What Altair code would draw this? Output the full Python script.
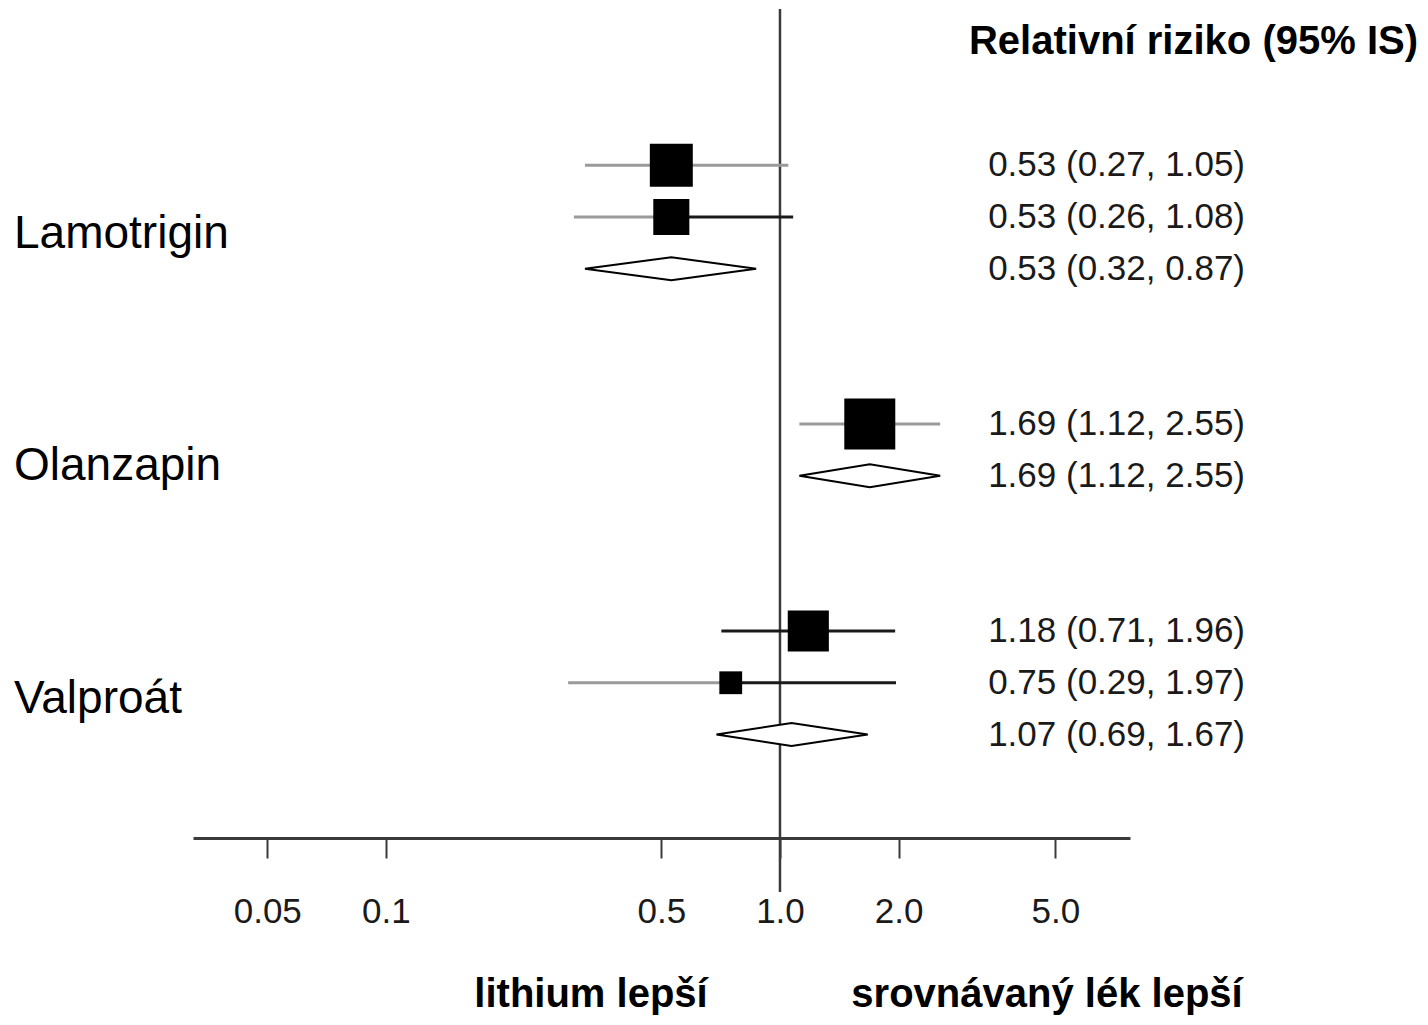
import altair as alt
import pandas as pd

# ---- data ----
groups = ["Lamotrigin", "Olanzapin", "Valproát"]
group_sizes = [3, 2, 3]
kinds = ["study", "study", "summary", "study", "summary", "study", "study", "summary"]
rr = [0.53, 0.53, 0.53, 1.69, 1.69, 1.18, 0.75, 1.07]
ci_low_label = [0.27, 0.26, 0.32, 1.12, 1.12, 0.71, 0.29, 0.69]
ci_low_drawn = [0.32, 0.30, 0.32, 1.12, 1.12, 0.71, 0.29, 0.69]
ci_high = [1.05, 1.08, 0.87, 2.55, 2.55, 1.96, 1.97, 1.67]
weights = [71, 50, None, 100, None, 65, 20, None]
tick_values = [0.05, 0.1, 0.5, 1.0, 2.0, 5.0]
header = "Relativní riziko (95% IS)"
left_note = "lithium lepší"
right_note = "srovnávaný lék lepší"

# styling of the two halves of each CI line (left, right)
GRAY, BLACK = "#9a9a9a", "#1a1a1a"
line_styles = [(GRAY, GRAY), (GRAY, BLACK), None, (GRAY, GRAY), None,
               (BLACK, BLACK), (GRAY, BLACK), None]

# ---- build row positions: groups start after 3 blank rows, 2 blank rows between groups ----
rows, grp_of_row = [], []
r = 3
for g, n in zip(groups, group_sizes):
    for _ in range(n):
        rows.append(r)
        grp_of_row.append(g)
        r += 1
    r += 2

df = pd.DataFrame({
    "group": grp_of_row, "kind": kinds, "row": rows, "rr": rr,
    "lo": ci_low_drawn, "hi": ci_high, "w": weights,
    "label": [f"{e:.2f} ({l:.2f}, {h:.2f})" for e, l, h in zip(rr, ci_low_label, ci_high)],
})

# CI segments
seg = []
for i, rec in df.iterrows():
    if rec["kind"] != "study":
        continue
    cl, cr = line_styles[i]
    seg.append({"row": rec["row"], "x": rec["lo"], "x2": rec["rr"], "c": cl})
    seg.append({"row": rec["row"], "x": rec["rr"], "x2": rec["hi"], "c": cr})
seg = pd.DataFrame(seg)

# diamonds
H = 0.22
dia = []
for i, rec in df.iterrows():
    if rec["kind"] != "summary":
        continue
    rid = f"d{i}"
    dia.append({"id": rid, "x": rec["lo"], "y": rec["row"], "y2": rec["row"]})
    dia.append({"id": rid, "x": rec["rr"], "y": rec["row"] - H, "y2": rec["row"] + H})
    dia.append({"id": rid, "x": rec["hi"], "y": rec["row"], "y2": rec["row"]})
dia = pd.DataFrame(dia)

# group labels
lab = pd.DataFrame({
    "group": groups,
    "row": [df[df.group == g]["row"].mean() + 0.32 for g in groups],
})

xscale = alt.Scale(type="log", domain=[0.0324, 7.73], nice=False)
yscale = alt.Scale(domain=[0, 16], reverse=True, nice=False)
FONT = "Liberation Sans"

xaxis = alt.Axis(values=tick_values, title=None, grid=False,
                 labelExpr="datum.value >= 1 ? format(datum.value, '.1f') : toString(datum.value)",
                 domainColor="#3a3a3a", domainWidth=3, tickColor="#3a3a3a", tickWidth=2,
                 tickSize=20, labelFontSize=35, labelColor="#1a1a1a", labelPadding=36,
                 labelFont=FONT, labelFlush=False)

base_rule = alt.Chart(pd.DataFrame({"x": [1.0]})).mark_rule(
    color="#3a3a3a", strokeWidth=2.5).encode(
    x=alt.X("x:Q", scale=xscale, axis=xaxis),
    y=alt.value(-1), y2=alt.value(882))

ci = alt.Chart(seg).mark_rule(strokeWidth=3).encode(
    x=alt.X("x:Q", scale=xscale), x2="x2:Q",
    y=alt.Y("row:Q", scale=yscale, axis=None),
    color=alt.Color("c:N", scale=None))

squares = alt.Chart(df[df.kind == "study"]).mark_square(color="black", opacity=1).encode(
    x=alt.X("rr:Q", scale=xscale),
    y=alt.Y("row:Q", scale=yscale, axis=None),
    size=alt.Size("w:Q", scale=alt.Scale(domain=[0, 100], range=[0, 2601]), legend=None))

diamonds = alt.Chart(dia).mark_area(fill="white", stroke="black", strokeWidth=2,
                                    interpolate="linear").encode(
    x=alt.X("x:Q", scale=xscale),
    y=alt.Y("y:Q", scale=yscale, axis=None), y2="y2:Q",
    detail="id:N")

values = alt.Chart(df).mark_text(align="right", baseline="middle", fontSize=35,
                                 font=FONT, color="#1a1a1a").encode(
    x=alt.value(1052),
    y=alt.Y("row:Q", scale=yscale, axis=None),
    text="label:N")

group_text = alt.Chart(lab).mark_text(align="left", baseline="middle", fontSize=46,
                                      font=FONT, color="black").encode(
    x=alt.value(-179),
    y=alt.Y("row:Q", scale=yscale, axis=None),
    text="group:N")

head = alt.Chart(pd.DataFrame({"t": [header]})).mark_text(
    align="right", baseline="middle", fontSize=40, fontWeight="bold",
    font=FONT, color="black").encode(x=alt.value(1225), y=alt.value(32), text="t:N")

notes = alt.Chart(pd.DataFrame({"t": [left_note, right_note], "p": [398, 854]})).mark_text(
    align="center", baseline="alphabetic", fontSize=40, fontWeight="bold",
    font=FONT, color="black").encode(x=alt.X("p:Q", scale=None), y=alt.value(997), text="t:N")

chart = alt.layer(base_rule, ci, squares, diamonds, values, group_text, head, notes).properties(
    width=937, height=828,
    autosize=alt.AutoSizeParams(type="none"),
    padding={"left": 185, "top": 2, "right": 290, "bottom": 179},
    background="white",
).configure_view(stroke=None)

chart.save("out.html", embed_options={"renderer": "svg", "actions": False})
